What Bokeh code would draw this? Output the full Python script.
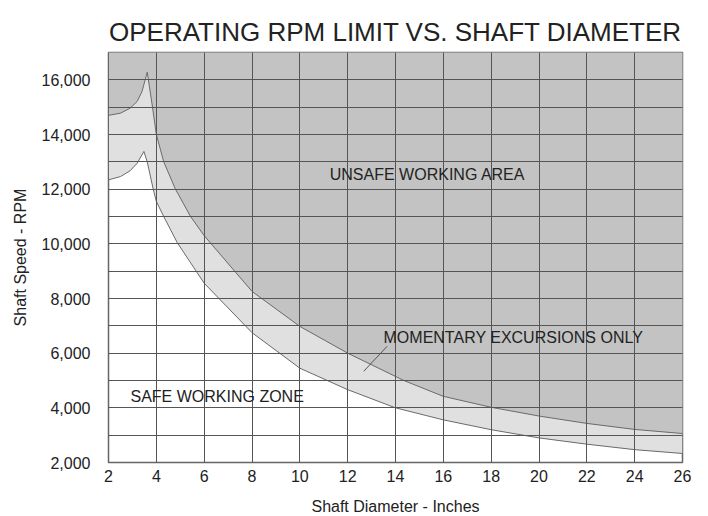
from bokeh.plotting import figure
from bokeh.models import FixedTicker, NumeralTickFormatter, Label, Range1d
from bokeh.embed import file_html
from bokeh.resources import INLINE

# ---- data ----
upper_x = [2.0, 2.5, 2.9, 3.2, 3.4, 3.62, 3.84, 4.0, 4.31, 4.8, 5.43, 6.0, 8.0, 10.0, 12.0, 14.35, 16.0, 18.0, 20.0, 22.0, 24.0, 26.0]
upper_rpm = [14700, 14780, 14960, 15210, 15570, 16280, 15000, 14000, 13000, 12000, 11000, 10300, 8260, 6980, 6000, 5000, 4420, 4020, 3700, 3430, 3210, 3060]

lower_x = [2.0, 2.5, 2.9, 3.2, 3.48, 3.62, 3.87, 4.0, 4.31, 4.87, 5.4, 6.0, 8.0, 10.0, 12.0, 14.0, 16.0, 18.0, 20.0, 22.0, 24.0, 26.0]
lower_rpm = [12340, 12460, 12670, 12950, 13380, 13000, 12000, 11550, 11000, 10050, 9350, 8560, 6750, 5450, 4665, 4000, 3560, 3200, 2900, 2670, 2470, 2330]

x_ticks = [2, 4, 6, 8, 10, 12, 14, 16, 18, 20, 22, 24, 26]
y_ticks = [2000, 4000, 6000, 8000, 10000, 12000, 14000, 16000]
y_grid = [2000, 3000, 4000, 5000, 6000, 7000, 8000, 9000, 10000, 11000, 12000, 13000, 14000, 15000, 16000, 17000]
x_min, x_max = 2, 26
y_min, y_max = 2000, 17000

leader_x = [12.67, 13.65]
leader_y = [5335, 6250]

FONT = "Liberation Sans"

p = figure(frame_width=574, frame_height=410,
           x_range=Range1d(x_min, x_max), y_range=Range1d(y_min, y_max),
           output_backend="svg", toolbar_location=None,
           min_border_left=108, min_border_right=18,
           min_border_top=52, min_border_bottom=52)

p.title.text = "OPERATING RPM LIMIT VS. SHAFT DIAMETER"
p.title.align = "center"
p.title.offset = 6
p.title.standoff = 12
p.title.text_font = FONT
p.title.text_font_size = "26px"
p.title.text_font_style = "normal"
p.title.text_color = "#222222"

# fills: everything above lower curve light grey, above upper curve darker grey
band_x = lower_x + [x_max, x_min]
band_y = lower_rpm + [y_max, y_max]
p.patch(band_x, band_y, fill_color="#e0e0e0", line_color=None)
unsafe_x = upper_x + [x_max, x_min]
unsafe_y = upper_rpm + [y_max, y_max]
p.patch(unsafe_x, unsafe_y, fill_color="#c3c3c3", line_color=None)

p.line(upper_x, upper_rpm, line_color="#6a6a6a", line_width=1)
p.line(lower_x, lower_rpm, line_color="#6a6a6a", line_width=1)
p.line(leader_x, leader_y, line_color="#555555", line_width=1)

# axes
p.xaxis.ticker = FixedTicker(ticks=x_ticks)
p.yaxis.ticker = FixedTicker(ticks=y_ticks)
p.yaxis.formatter = NumeralTickFormatter(format="0,0")
for ax in (p.xaxis[0], p.yaxis[0]):
    ax.major_tick_line_color = None
    ax.minor_tick_line_color = None
    ax.major_tick_out = 0
    ax.major_tick_in = 0
    ax.axis_line_color = "#666666"
    ax.major_label_text_font = FONT
    ax.major_label_text_font_size = "16px"
    ax.major_label_text_color = "#222222"
    ax.axis_label_text_font = FONT
    ax.axis_label_text_font_size = "16px"
    ax.axis_label_text_font_style = "normal"
    ax.axis_label_text_color = "#222222"

p.xaxis.axis_label = "Shaft Diameter - Inches"
p.yaxis.axis_label = "Shaft Speed - RPM"
p.xaxis.major_label_standoff = 7
p.xaxis.axis_label_standoff = 13
p.yaxis.major_label_standoff = 18
p.yaxis.axis_label_standoff = 10

# grid
p.xgrid.ticker = FixedTicker(ticks=x_ticks)
p.ygrid.ticker = FixedTicker(ticks=y_grid)
for g in (p.xgrid[0], p.ygrid[0]):
    g.grid_line_color = "#555555"
    g.grid_line_width = 1
    g.level = "guide"

p.outline_line_color = "#666666"
p.outline_line_width = 1.5
p.background_fill_color = "white"
p.border_fill_color = "white"

for txt, x, y, align in [("UNSAFE WORKING AREA", 15.34, 12540, "center"),
                         ("MOMENTARY EXCURSIONS ONLY", 13.5, 6580, "left"),
                         ("SAFE WORKING ZONE", 2.92, 4420, "left")]:
    p.add_layout(Label(x=x, y=y, text=txt, text_align=align, text_baseline="middle",
                       text_font=FONT, text_font_size="16px", text_color="#222222"))

open("out.html", "w").write(file_html(p, INLINE))
